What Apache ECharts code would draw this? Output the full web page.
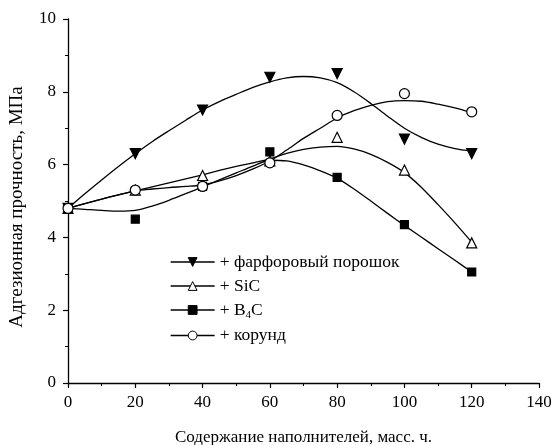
<!DOCTYPE html>
<html>
<head>
<meta charset="utf-8">
<script src="https://cdn.jsdelivr.net/npm/echarts@6/dist/echarts.min.js"></script>
<style>
  html, body { margin: 0; padding: 0; background: #fff; }
  #chart { width: 555px; height: 445px; }
</style>
</head>
<body>
<div id="chart"></div>
<script>
// Filler content, mass parts (measured points)
const filler = [0, 20, 40, 60, 80, 100, 120];
// Adhesive strength, MPa, per filler
const porcelain = [4.8, 6.3, 7.5, 8.4, 8.5, 6.7, 6.3];
const sic = [4.8, 5.3, 5.7, 6.1, 6.75, 5.85, 3.85];
const b4c = [4.8, 4.5, 5.4, 6.35, 5.65, 4.35, 3.05];
const corundum = [4.8, 5.3, 5.4, 6.05, 7.35, 7.95, 7.45];

// Approximating curves, sampled every 5 mass parts
const fitX = [0, 5, 10, 15, 20, 25, 30, 35, 40, 45, 50, 55, 60, 65, 70, 75, 80, 85, 90, 95, 100, 105, 110, 115, 120];
const porcelainFit = [4.8, 5.2, 5.58, 5.95, 6.3, 6.63, 6.93, 7.22, 7.5, 7.73, 7.93, 8.12, 8.27, 8.38, 8.42, 8.38, 8.25, 8.0, 7.68, 7.33, 7.0, 6.75, 6.56, 6.44, 6.37];
const sicFit = [4.8, 4.93, 5.05, 5.17, 5.28, 5.39, 5.5, 5.61, 5.72, 5.84, 5.95, 6.05, 6.16, 6.31, 6.42, 6.48, 6.5, 6.43, 6.28, 6.06, 5.78, 5.38, 4.9, 4.4, 3.87];
const b4cFit = [4.8, 4.77, 4.74, 4.72, 4.74, 4.86, 5.02, 5.2, 5.39, 5.58, 5.77, 5.96, 6.12, 6.1, 5.99, 5.83, 5.63, 5.33, 5.0, 4.66, 4.33, 4.01, 3.69, 3.37, 3.05];
const corundumFit = [4.8, 4.93, 5.05, 5.17, 5.28, 5.33, 5.37, 5.4, 5.44, 5.55, 5.7, 5.88, 6.1, 6.4, 6.72, 7.0, 7.28, 7.48, 7.63, 7.73, 7.76, 7.74, 7.66, 7.56, 7.43];

const names = ['фарфоровый порошок', 'SiC', 'B4C', 'корунд'];

const FONT = '"Liberation Serif", "DejaVu Serif", serif';
const invTriangle = 'path://M0,0L10,0L5,9Z';

const pair = (xs, ys) => xs.map((x, i) => [x, ys[i]]);

const groups = [
  { name: names[0], pts: porcelain, fit: porcelainFit, symbol: invTriangle, size: 10, fill: '#000' },
  { name: names[1], pts: sic, fit: sicFit, symbol: 'triangle', size: 10, fill: '#fff' },
  { name: names[2], pts: b4c, fit: b4cFit, symbol: 'rect', size: 8, fill: '#000' },
  { name: names[3], pts: corundum, fit: corundumFit, symbol: 'circle', size: 10, fill: '#fff' }
];

const series = [];
groups.forEach(g => {
  series.push({
    name: g.name,
    type: 'line',
    data: pair(fitX, g.fit),
    smooth: 0.3,
    showSymbol: false,
    symbol: g.symbol,
    symbolSize: g.size,
    lineStyle: { color: '#000', width: 1.3 },
    itemStyle: { color: g.fill, borderColor: '#000', borderWidth: 1.2 },
    z: 2,
    silent: true,
    animation: false
  });
});
groups.forEach(g => {
  series.push({
    name: g.name,
    type: 'scatter',
    data: pair(filler, g.pts),
    symbol: g.symbol,
    symbolSize: g.size,
    itemStyle: { color: g.fill, borderColor: '#000', borderWidth: 1.2, opacity: 1 },
    z: 3,
    animation: false
  });
});

const chart = echarts.init(document.getElementById('chart'), null, { renderer: 'canvas' });
chart.setOption({
  backgroundColor: '#fff',
  animation: false,
  grid: { left: 68, right: 16, top: 19, bottom: 62, containLabel: false, outerBoundsMode: 'none' },
  legend: {
    orient: 'vertical',
    left: 165,
    top: 248,
    itemWidth: 44,
    itemHeight: 11,
    itemGap: 6,
    selectedMode: false,
    data: groups.map(g => ({
      name: g.name,
      itemStyle: { color: g.fill, borderColor: '#000', borderWidth: 1 }
    })),
    lineStyle: { color: '#000', width: 1.3 },
    formatter: n => n === 'B4C' ? '+ B{sub|4}C' : '+ ' + n,
    textStyle: {
      fontFamily: FONT, fontSize: 17.5, color: '#000',
      rich: {
        sub: { fontFamily: FONT, fontSize: 11, color: '#000', padding: [10, 0, 0, 0] }
      }
    }
  },
  xAxis: {
    type: 'value',
    min: 0, max: 140, interval: 20,
    name: 'Содержание наполнителей, масс. ч.',
    nameLocation: 'middle',
    nameGap: 46,
    nameTextStyle: { fontFamily: FONT, fontSize: 17, color: '#000' },
    axisLine: { lineStyle: { color: '#000', width: 1.3 } },
    axisTick: { inside: false, length: 5, lineStyle: { color: '#000', width: 1.2 } },
    minorTick: { show: true, splitNumber: 2, length: 3, lineStyle: { color: '#000', width: 1 } },
    axisLabel: { fontFamily: FONT, fontSize: 17, color: '#000', margin: 11 },
    splitLine: { show: false }
  },
  yAxis: {
    type: 'value',
    min: 0, max: 10, interval: 2,
    name: 'Адгезионная прочность, МПа',
    nameLocation: 'middle',
    nameGap: 41,
    nameTextStyle: { fontFamily: FONT, fontSize: 19, color: '#000', padding: [0, 12, 0, 0] },
    axisLine: { show: true, lineStyle: { color: '#000', width: 1.3 } },
    axisTick: { show: true, inside: false, length: 5, lineStyle: { color: '#000', width: 1.2 } },
    minorTick: { show: true, splitNumber: 2, length: 3, lineStyle: { color: '#000', width: 1 } },
    axisLabel: { fontFamily: FONT, fontSize: 17, color: '#000', margin: 12 },
    splitLine: { show: false }
  },
  series: series
});
</script>
</body>
</html>
